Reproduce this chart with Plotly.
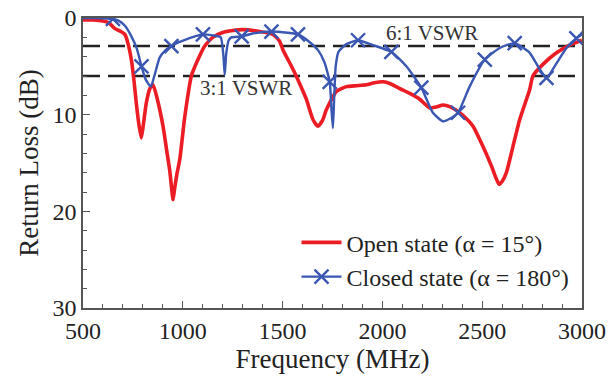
import plotly.graph_objects as go

# Open state (alpha = 15 deg) return loss, MHz / dB
open_f = [500, 550, 600, 630, 660, 690, 710, 725, 742, 755, 767, 780, 792, 800, 817, 835, 851,
          870, 901, 920, 934, 944, 951, 958, 970, 985, 1010, 1043, 1076, 1110, 1150, 1200,
          1250, 1300, 1385, 1452, 1485, 1502, 1552, 1590, 1619, 1652, 1677, 1700, 1719, 1769,
          1820, 1870, 1920, 1960, 2003, 2040, 2087, 2137, 2187, 2237, 2270, 2304, 2340, 2387,
          2420, 2454, 2504, 2546, 2570, 2584, 2600, 2621, 2654, 2688, 2738, 2754, 2804, 2872,
          2938, 2988, 3000]
open_db = [0.2, 0.2, 0.3, 0.5, 1.1, 1.4, 1.7, 2.6, 4.3, 6.4, 8.8, 11.0, 12.4, 11.4, 8.8, 7.3, 6.9,
           8.2, 11.2, 13.8, 15.7, 17.6, 18.8, 17.8, 16.2, 14.6, 10.2, 6.0, 4.3, 2.9, 2.0, 1.5,
           1.3, 1.2, 1.4, 1.7, 2.4, 3.3, 5.3, 7.0, 8.4, 10.5, 11.2, 10.6, 9.5, 7.6,
           7.1, 7.0, 6.9, 6.7, 6.6, 6.8, 7.3, 7.8, 8.4, 9.3, 9.2, 9.0, 9.2, 9.8,
           10.4, 11.2, 13.3, 15.3, 16.6, 17.2, 16.9, 16.0, 13.3, 10.5, 7.4, 6.0, 4.8, 3.6,
           2.8, 2.4, 2.3]

# Closed state (alpha = 180 deg) return loss, MHz / dB
closed_f = [500, 560, 620, 650, 680, 710, 740, 770, 793, 815, 840, 860, 884, 910, 943, 980,
            1018, 1060, 1101, 1150, 1190, 1203, 1210, 1218, 1230, 1243, 1295, 1350, 1444,
            1510, 1577, 1630, 1680, 1710, 1736, 1745, 1752, 1758, 1766, 1780, 1820, 1878,
            1952, 2045, 2120, 2195, 2253, 2304, 2340, 2379, 2437, 2513, 2588, 2663, 2738,
            2788, 2822, 2872, 2922, 2972, 3000]
closed_db = [0.0, 0.0, 0.05, 0.1, 0.3, 0.8, 1.8, 3.2, 5.0, 6.4, 7.1, 5.8, 4.1, 3.4, 2.9, 2.5,
             2.2, 1.9, 1.7, 1.8, 2.0, 3.8, 5.9, 3.6, 2.3, 2.0, 1.9, 1.6, 1.4,
             1.5, 1.7, 2.4, 3.4, 4.6, 6.6, 9.5, 11.4, 8.5, 5.0, 3.5, 2.7, 2.3,
             2.8, 3.5, 5.0, 7.2, 9.8, 10.7, 10.4, 9.8, 7.1, 4.3, 3.1, 2.6, 3.6,
             5.3, 6.2, 4.7, 3.1, 2.1, 1.7]

# Marker positions on the closed-state curve
closed_mark_f = [650, 793, 943, 1101, 1295, 1444, 1577, 1736, 1878, 2045, 2195, 2379,
                 2513, 2663, 2822, 2972]
closed_mark_db = [0.1, 5.0, 2.9, 1.7, 1.9, 1.4, 1.7, 6.6, 2.3, 3.5, 7.2, 9.8,
                  4.3, 2.6, 6.2, 2.1]

# VSWR reference levels (return loss, dB)
vswr_labels = ["6:1 VSWR", "3:1 VSWR"]
vswr_db = [2.9, 6.0]
vswr_label_f = [2246, 1315]
vswr_label_db = [1.6, 7.2]

x_range = [500, 3000]
x_ticks = [500, 1000, 1500, 2000, 2500, 3000]
y_ticks = [0, 10, 20, 30]

RED = "#ec1c24"
BLUE = "#3a57b2"
FONT = "Liberation Serif"

fig = go.Figure()

for lvl in vswr_db:
    fig.add_trace(go.Scatter(
        x=x_range, y=[lvl, lvl], mode="lines",
        line=dict(color="#222222", width=2.4, dash="17px,8px"),
        showlegend=False, hoverinfo="skip"))

fig.add_trace(go.Scatter(
    x=open_f, y=open_db, mode="lines", name="Open state (α = 15°)",
    line=dict(color=RED, width=3.6, shape="spline", smoothing=0.5)))

fig.add_trace(go.Scatter(
    x=closed_f, y=closed_db, mode="lines", showlegend=False,
    line=dict(color=BLUE, width=2.4, shape="spline", smoothing=0.5)))

fig.add_trace(go.Scatter(
    x=closed_mark_f, y=closed_mark_db, mode="markers", showlegend=False,
    marker=dict(symbol="x-thin", size=14, line=dict(color=BLUE, width=2.4))))

# legend entry for the closed-state curve (line with cross markers)
fig.add_trace(go.Scatter(
    x=[None], y=[None], mode="lines+markers", name="Closed state (α = 180°)",
    line=dict(color=BLUE, width=2.4),
    marker=dict(symbol="x-thin", size=14, line=dict(color=BLUE, width=2.4))))

for txt, fx, fy in zip(vswr_labels, vswr_label_f, vswr_label_db):
    fig.add_annotation(x=fx, y=fy, text=txt, showarrow=False,
                       font=dict(family=FONT, size=21, color="#333333"))

axis_common = dict(
    showline=True, linecolor="#555555", linewidth=1.5, mirror=True,
    showgrid=False, zeroline=False, ticks="inside", ticklen=7, tickwidth=1.3,
    tickcolor="#555555", automargin=False,
    tickfont=dict(family=FONT, size=24, color="#222222"),
)

fig.update_xaxes(
    range=x_range, tickvals=x_ticks,
    minor=dict(ticks="inside", ticklen=4, tickwidth=1.2, tickcolor="#555555", dtick=100),
    title=dict(text="Frequency (MHz)", font=dict(family=FONT, size=27, color="#222222"),
               standoff=4),
    **axis_common)
fig.update_yaxes(
    range=[30, 0], tickvals=y_ticks,
    minor=dict(ticks="inside", ticklen=4, tickwidth=1.2, tickcolor="#555555", dtick=2),
    title=dict(text="Return Loss (dB)", font=dict(family=FONT, size=27, color="#222222"),
               standoff=6),
    **axis_common)

fig.update_layout(
    width=608, height=381,
    margin=dict(l=83, r=26, t=18, b=73),
    paper_bgcolor="white", plot_bgcolor="white",
    legend=dict(x=0.985, xanchor="right", y=0.03, yanchor="bottom",
                bgcolor="rgba(0,0,0,0)", font=dict(family=FONT, size=24, color="#222222"),
                tracegroupgap=0, itemwidth=40),
)

fig.write_html("out.html")
